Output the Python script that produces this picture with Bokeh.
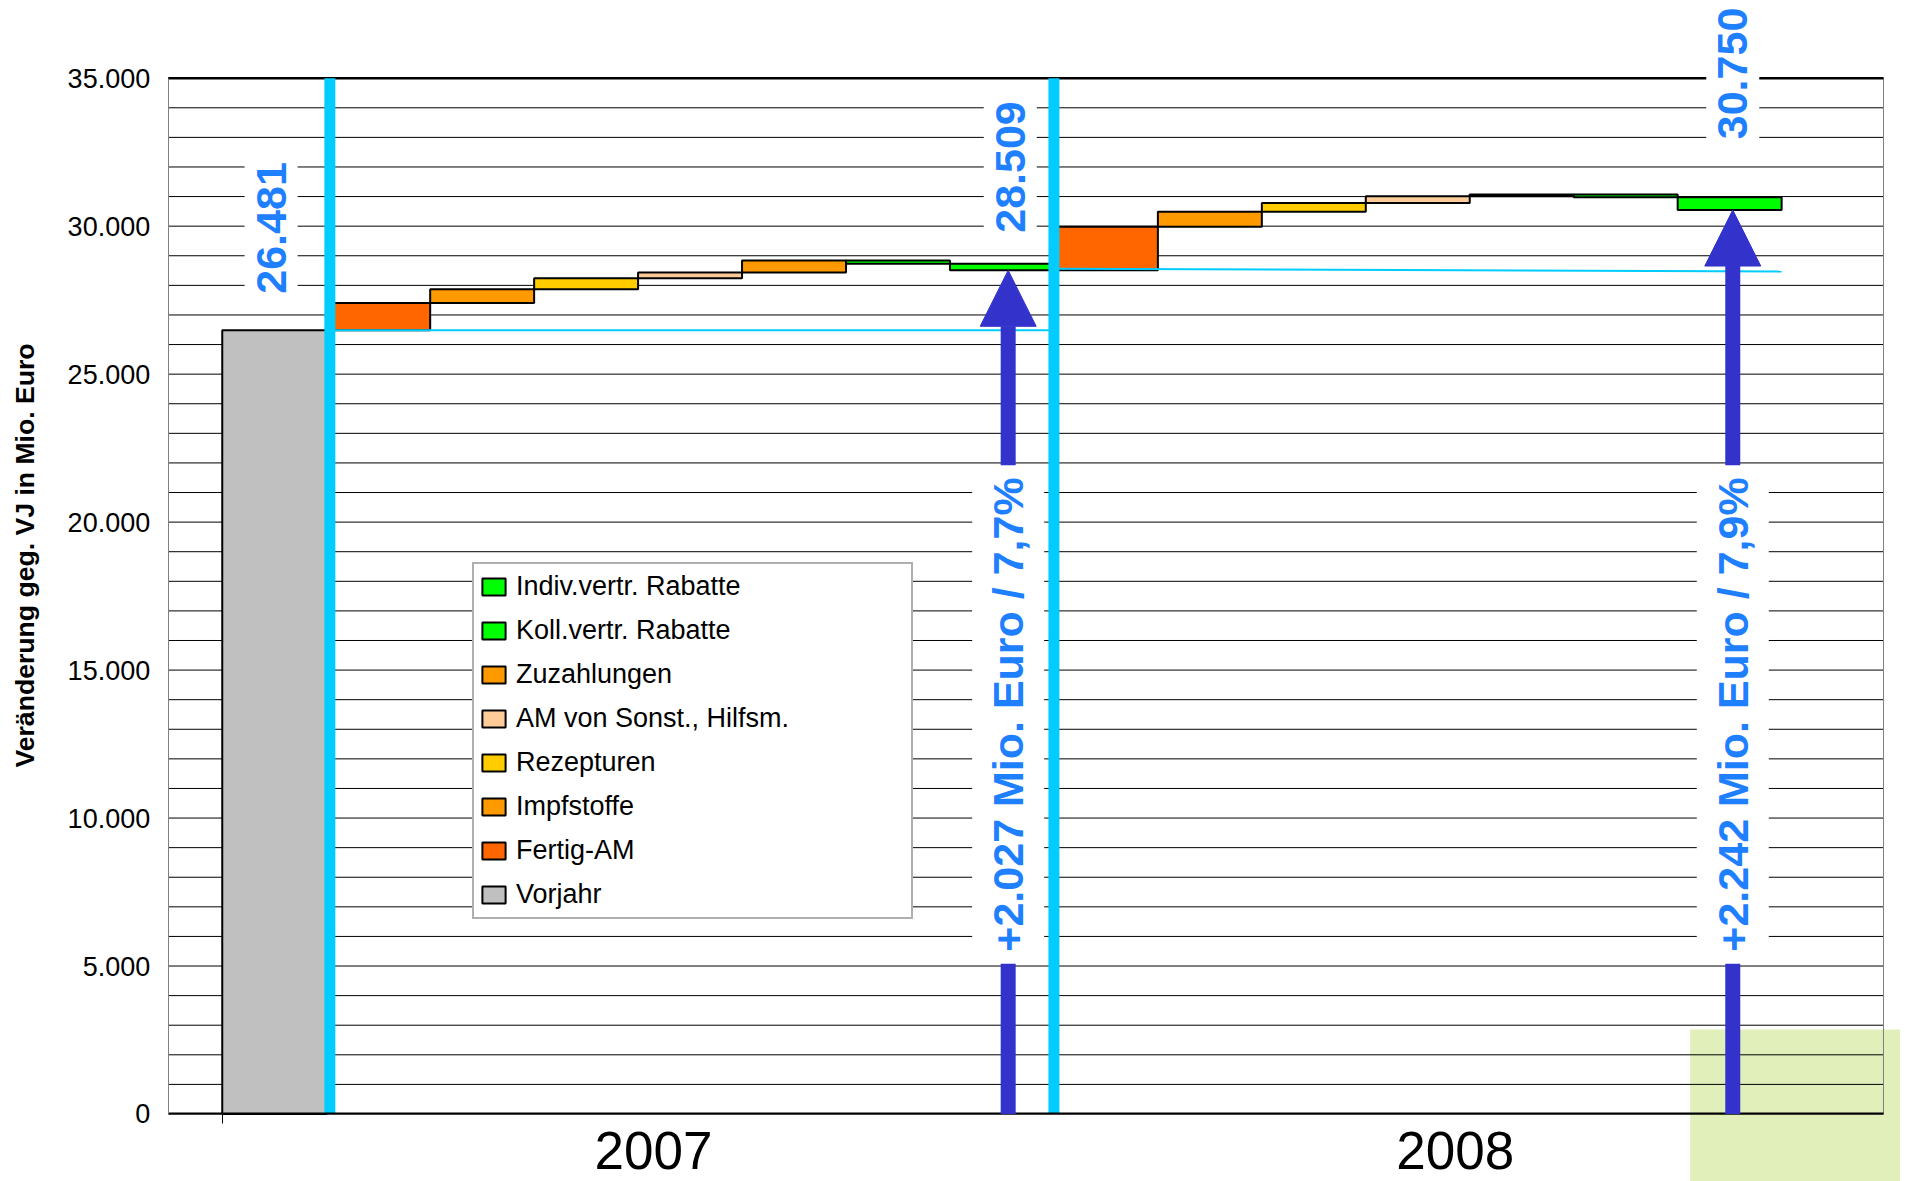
import numpy as np
from bokeh.plotting import figure
from bokeh.models import (Range1d, FixedTicker, Legend, LegendItem, Label, Arrow,
                          NormalHead, BoxAnnotation, LinearAxis, ColumnDataSource)
from bokeh.embed import file_html
from bokeh.resources import INLINE

# ---------------- data ----------------
years = ["2007", "2008"]
categories = ["Fertig-AM", "Impfstoffe", "Rezepturen", "AM von Sonst., Hilfsm.",
              "Zuzahlungen", "Koll.vertr. Rabatte", "Indiv.vertr. Rabatte"]
cat_colors = ["#FF6600", "#FF9900", "#FFCC00", "#FFCC99", "#FF9900", "#00FF00", "#00FF00"]
vorjahr_name = "Vorjahr"
vorjahr_value = 26481
changes_2007 = [919, 470, 370, 195, 405, -110, -221]
changes_2008 = [1471, 510, 290, 230, 60, -95, -430]
baseline_2008 = [28560, 28470]
total_labels = ["26.481", "28.509", "30.750"]
growth_labels = ["+2.027 Mio. Euro / 7,7%", "+2.242 Mio. Euro / 7,9%"]
y_ticks = [0, 5000, 10000, 15000, 20000, 25000, 30000, 35000]
y_minor = list(range(0, 35001, 1000))
y_title = "Veränderung geg. VJ in Mio. Euro"

FONT = "Liberation Sans"
BLUE_TXT = "#1F80FF"
CYAN = "#00CCFF"
ARROW = "#3333CC"

# plot area in data units
X0, X1 = -0.02, 16.48
Y0, Y1 = 0, 35000

# ---------------- waterfall geometry ----------------
def steps(start, changes):
    ends = np.cumsum([start] + list(changes))
    return ends[:-1], ends[1:]

s07, e07 = steps(vorjahr_value, changes_2007)
end_2007 = float(e07[-1])
s08, e08 = steps(end_2007, changes_2008)
end_2008 = float(e08[-1])

n = len(categories)
x07 = np.arange(n) + 2          # slots 2..8
x08 = np.arange(n) + 2 + n      # slots 9..15

W, H = 1900, 1181
# the frame covers the whole canvas; the plot area is a sub-region of it
p = figure(width=W, height=H, x_range=Range1d(-1.6331, 16.6435), y_range=Range1d(-2280.9, 37625.5),
           output_backend="svg", toolbar_location=None, title=None,
           x_axis_location=None, y_axis_location=None,
           min_border=0, min_border_left=0, min_border_right=0, min_border_top=0, min_border_bottom=0)
p.background_fill_color = "white"
p.border_fill_color = "white"
p.outline_line_color = None
p.xgrid.visible = False
p.ygrid.visible = False

# green decoration behind the chart (bottom right)
p.add_layout(BoxAnnotation(left=14.62, right=17.0, bottom=-3000, top=2855,
                           fill_color="#E1EFBA", fill_alpha=1, line_alpha=0, level="image"))

# horizontal grid lines every 1000
p.segment(x0=[X0] * len(y_minor), y0=y_minor, x1=[X1] * len(y_minor), y1=y_minor,
          line_color="black", line_width=1)
# plot area border: right (grey) and top (black)
p.segment(x0=[X1], y0=[Y0], x1=[X1], y1=[Y1], line_color="#808080", line_width=1)
p.segment(x0=[X0], y0=[Y1], x1=[X1], y1=[Y1], line_color="black", line_width=2.5)

# y axis
yaxis = LinearAxis(fixed_location=X0, bounds=(Y0, Y1),
                   ticker=FixedTicker(ticks=y_ticks, minor_ticks=[]))
yaxis.major_label_overrides = {t: f"{t:,}".replace(",", ".") for t in y_ticks}
yaxis.major_label_text_font = FONT
yaxis.major_label_text_font_size = "27px"
yaxis.major_label_text_color = "black"
yaxis.major_label_standoff = 18
yaxis.major_tick_out = 0
yaxis.major_tick_in = 0
yaxis.major_tick_line_color = None
yaxis.minor_tick_line_color = None
yaxis.axis_line_color = "#808080"
p.add_layout(yaxis, "left")

# x axis: year labels, single tick at the left edge of the first bar
xaxis = LinearAxis(fixed_location=Y0, bounds=(X0, X1),
                   ticker=FixedTicker(ticks=[4.648, 12.36], minor_ticks=[0.5]))
xaxis.major_label_overrides = {4.648: years[0], 12.36: years[1]}
xaxis.major_label_text_font = FONT
xaxis.major_label_text_font_size = "53px"
xaxis.major_label_text_color = "black"
xaxis.major_label_standoff = 8
xaxis.major_tick_out = 0
xaxis.major_tick_in = 0
xaxis.major_tick_line_color = None
xaxis.minor_tick_out = 10
xaxis.minor_tick_in = 0
xaxis.minor_tick_line_color = "black"
xaxis.axis_line_color = "black"
xaxis.axis_line_width = 2
p.add_layout(xaxis, "below")

# bars
r_vor = p.quad(left=[0.5], right=[1.5], bottom=[0], top=[vorjahr_value],
               fill_color="#C0C0C0", line_color="black", line_width=2)
renderers = []
for i, (name, col) in enumerate(zip(categories, cat_colors)):
    src = ColumnDataSource(dict(
        left=[x07[i] - 0.5, x08[i] - 0.5],
        right=[x07[i] + 0.5, x08[i] + 0.5],
        bottom=[min(s07[i], e07[i]), min(s08[i], e08[i])],
        top=[max(s07[i], e07[i]), max(s08[i], e08[i])],
    ))
    r = p.quad(left="left", right="right", bottom="bottom", top="top", source=src,
               fill_color=col, line_color="black", line_width=2)
    renderers.append(r)

# thin cyan base lines
p.line([1.5, 8.5], [vorjahr_value, vorjahr_value], line_color=CYAN, line_width=2)
p.line([8.5, 15.5], baseline_2008, line_color=CYAN, line_width=2)

# thick cyan year separators
p.segment(x0=[1.535, 8.5], y0=[Y0, Y0], x1=[1.535, 8.5], y1=[Y1, Y1],
          line_color=CYAN, line_width=11)

# arrows
for xa, ye in [(8.06, end_2007), (15.03, end_2008)]:
    p.add_layout(Arrow(x_start=xa, y_start=0, x_end=xa, y_end=ye,
                       line_color=ARROW, line_width=15,
                       end=NormalHead(size=56, fill_color=ARROW, line_color=ARROW, line_width=1)))

# value labels
def blue_label(x, y, text):
    p.add_layout(Label(x=x, y=y, text=text, angle=90, angle_units="deg",
                       text_align="center", text_baseline="middle",
                       text_font=FONT, text_font_style="bold", text_font_size="43px",
                       text_color=BLUE_TXT, background_fill_color="white",
                       background_fill_alpha=1, padding=12))

blue_label(0.97, 29940, total_labels[0])
blue_label(8.08, 32000, total_labels[1])
blue_label(15.03, 35160, total_labels[2])
blue_label(8.06, 13500, growth_labels[0])
blue_label(15.03, 13500, growth_labels[1])

# y-axis title
p.add_layout(Label(x=-1.402, y=18872, text=y_title, angle=90, angle_units="deg",
                   text_align="center", text_baseline="middle", text_font=FONT,
                   text_font_style="bold", text_font_size="26.6px", text_color="black"))

# legend (reverse order like the original)
items = [LegendItem(label=categories[i], renderers=[renderers[i]]) for i in reversed(range(n))]
items.append(LegendItem(label=vorjahr_name, renderers=[r_vor]))
legend = Legend(items=items, location=(472, 262), margin=0,
                label_text_font=FONT, label_text_font_size="27px", label_text_color="black",
                glyph_width=29, glyph_height=21, label_height=35, spacing=9, padding=5,
                label_standoff=8, label_width=390,
                border_line_color="#606060", border_line_width=2,
                background_fill_color="white", background_fill_alpha=1)
p.add_layout(legend, "center")

open("out.html", "w").write(file_html(p, INLINE))
